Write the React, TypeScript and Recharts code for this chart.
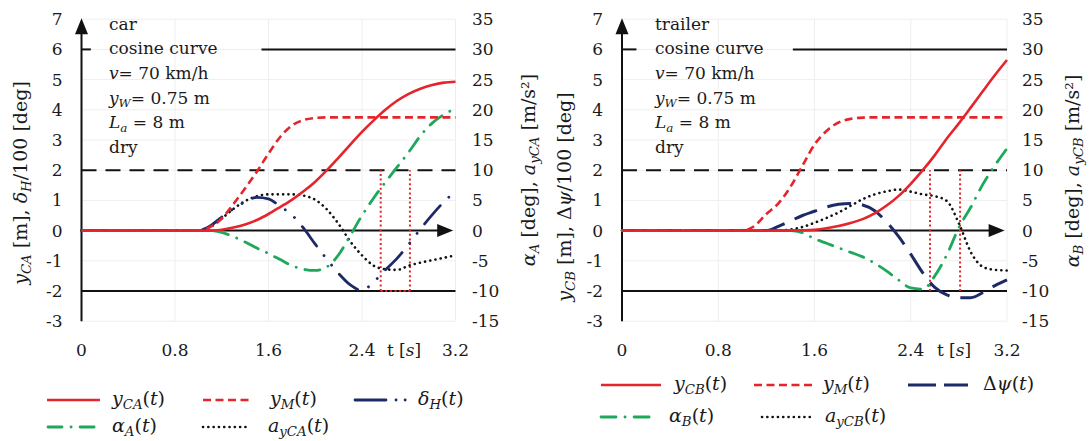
import React from 'react';
import { ComposedChart, Line, XAxis, YAxis, ReferenceLine, CartesianGrid } from 'recharts';

// ---------- data ----------
const tValues = [0, 0.1, 0.2, 0.3, 0.4, 0.5, 0.6, 0.7, 0.8, 0.9, 1.0, 1.1, 1.2, 1.3, 1.4, 1.5, 1.6, 1.7, 1.8, 1.9, 2.0, 2.1, 2.2, 2.3, 2.4, 2.5, 2.6, 2.7, 2.8, 2.9, 3.0, 3.1, 3.2];
const xTicks = [0, 0.8, 1.6, 2.4, 3.2];
const leftTicks = [-3, -2, -1, 0, 1, 2, 3, 4, 5, 6, 7];
const rightTicks = [-15, -10, -5, 0, 5, 10, 15, 20, 25, 30, 35];

// car (left panel)
const carYCA = [0, 0, 0, 0, 0, 0, 0, 0, 0, 0, 0, 0, 0.03, 0.1, 0.2, 0.35, 0.55, 0.78, 1.02, 1.3, 1.62, 2.0, 2.42, 2.85, 3.27, 3.65, 4.0, 4.3, 4.53, 4.7, 4.82, 4.9, 4.93];
const carYM = [0, 0, 0, 0, 0, 0, 0, 0, 0, 0, 0, 0.12, 0.4, 0.88, 1.4, 1.95, 2.55, 3.1, 3.48, 3.66, 3.73, 3.75, 3.75, 3.75, 3.75, 3.75, 3.75, 3.75, 3.75, 3.75, 3.75, 3.75, 3.75];
const carDeltaH = [0, 0, 0, 0, 0, 0, 0, 0, 0, 0, 0, 0.15, 0.45, 0.72, 0.95, 1.1, 1.05, 0.8, 0.52, 0.08, -0.45, -0.95, -1.42, -1.8, -1.98, -1.7, -1.3, -0.92, -0.45, 0.05, 0.52, 0.95, 1.3];
const carAlphaA = [0, 0, 0, 0, 0, 0, 0, 0, 0, 0, 0, 0, -0.3, -1.0, -1.9, -2.9, -3.8, -4.8, -5.8, -6.4, -6.6, -6.0, -4.0, -0.8, 2.5, 5.4, 8.0, 10.5, 13.0, 15.7, 17.8, 19.2, 20.2];
const carAyCA = [0, 0, 0, 0, 0, 0, 0, 0, 0, 0, 0, 0.6, 2.0, 3.6, 4.9, 5.7, 6.0, 6.0, 6.0, 5.8, 5.1, 3.5, 1.1, -1.8, -4.1, -5.8, -6.4, -6.5, -5.8, -5.3, -4.9, -4.5, -4.1];
const carMarkT = [2.56, 2.81];

// trailer (right panel)
const trYCB = [0, 0, 0, 0, 0, 0, 0, 0, 0, 0, 0, 0, 0, 0, 0, 0.01, 0.03, 0.08, 0.15, 0.25, 0.38, 0.57, 0.83, 1.15, 1.55, 2.0, 2.5, 3.05, 3.55, 4.08, 4.62, 5.15, 5.65];
const trYM = [0, 0, 0, 0, 0, 0, 0, 0, 0, 0, 0, 0.15, 0.55, 0.9, 1.45, 2.15, 2.85, 3.3, 3.58, 3.7, 3.74, 3.75, 3.75, 3.75, 3.75, 3.75, 3.75, 3.75, 3.75, 3.75, 3.75, 3.75, 3.75];
const trDpsi = [0, 0, 0, 0, 0, 0, 0, 0, 0, 0, 0, 0, 0, 0.14, 0.32, 0.5, 0.64, 0.78, 0.87, 0.9, 0.85, 0.66, 0.28, -0.2, -0.78, -1.4, -1.88, -2.13, -2.22, -2.22, -2.05, -1.82, -1.63];
const trAlphaB = [0, 0, 0, 0, 0, 0, 0, 0, 0, 0, 0, 0, 0, 0, 0, -0.35, -1.35, -2.1, -2.85, -3.6, -4.35, -5.4, -6.7, -8.2, -9.5, -9.7, -7.5, -4.0, 0.5, 3.9, 7.7, 10.8, 13.6];
const trAyCB = [0, 0, 0, 0, 0, 0, 0, 0, 0, 0, 0, 0, 0, 0, 0.2, 0.6, 1.3, 2.1, 3.0, 4.1, 5.2, 6.0, 6.5, 6.8, 6.45, 6.0, 5.7, 4.9, 1.2, -3.6, -6.0, -6.5, -6.6];
const trMarkT = [2.56, 2.81];

const carData = tValues.map((t, i) => ({ t, y: carYCA[i], m: carYM[i], d: carDeltaH[i], al: carAlphaA[i], ay: carAyCA[i] }));
const trData = tValues.map((t, i) => ({ t, y: trYCB[i], m: trYM[i], d: trDpsi[i], al: trAlphaB[i], ay: trAyCB[i] }));

// ---------- styles ----------
const FONT = 'DejaVu Serif';
const FS = 17;
const FS_LEG = 19;
const FS_TITLE = 19;
const TXT = '#1a1a1a';
const RED = '#e4252b';
const NAVY = '#1d2a66';
const GREEN = '#1ea85a';
const BLACK = '#111111';

type St = { stroke: string; w: number; dash?: string; cap?: 'round' | 'butt' };
const sRedSolid: St = { stroke: RED, w: 2.6 };
const sRedDash: St = { stroke: RED, w: 2.6, dash: '8 4.5' };
const sNavyDD: St = { stroke: NAVY, w: 2.8, dash: '24 12 0.1 12 0.1 12', cap: 'round' };
const sGreen: St = { stroke: GREEN, w: 2.8, dash: '15 9 0.1 9', cap: 'round' };
const sDotted: St = { stroke: BLACK, w: 2.6, dash: '0.1 5.2', cap: 'round' };
const sNavyLong: St = { stroke: NAVY, w: 3, dash: '24 11' };

type Seg = [string, 'n' | 'i' | 's'];

function MText({ x, y, segs, size = FS, anchor = 'start', rot = false }: { x: number; y: number; segs: Seg[]; size?: number; anchor?: string; rot?: boolean }) {
  let cur = 0;
  const spans = segs.map(([txt, st], k) => {
    const target = st === 's' ? size * 0.22 : 0;
    const dy = target - cur;
    cur = target;
    return (
      <tspan key={k} dy={dy} fontStyle={st === 'i' || st === 's' ? 'italic' : 'normal'} fontSize={st === 's' ? size * 0.7 : size}>
        {txt}
      </tspan>
    );
  });
  return (
    <text x={x} y={y} fontFamily={FONT} fontSize={size} fill={TXT} textAnchor={anchor as any} style={{ whiteSpace: 'pre' }} transform={rot ? `rotate(-90 ${x} ${y})` : undefined}>
      {spans}
    </text>
  );
}

const xArrow = (p: any) => {
  const { x1, y1, x2, y2 } = p;
  return (
    <g>
      <line x1={x1} y1={y1} x2={x2 - 10} y2={y2} stroke={BLACK} strokeWidth={2} />
      <polygon points={`${x2},${y2} ${x2 - 16},${y2 - 6.5} ${x2 - 16},${y2 + 6.5}`} fill={BLACK} />
    </g>
  );
};
const yArrow = (p: any) => {
  const { x1, y1, x2, y2 } = p;
  return (
    <g>
      <line x1={x1} y1={y1} x2={x2} y2={y2 + 10} stroke={BLACK} strokeWidth={2} />
      <polygon points={`${x2},${y2 - 1} ${x2 - 6.5},${y2 + 15} ${x2 + 6.5},${y2 + 15}`} fill={BLACK} />
    </g>
  );
};

type SeriesCfg = { key: string; axis: 'l' | 'r'; st: St };
type LegendItem = { st: St; x1: number; x2: number; lx: number; y: number; segs: Seg[]; dash?: string };

type PanelProps = {
  left: number;
  data: any[];
  plotL: number;
  plotR: number;
  series: SeriesCfg[];
  block: Seg[][];
  lineStart: number;
  tickEnd: number;
  markT: number[];
  markBottom: boolean;
  leftTitle: { x: number; y: number; segs: Seg[] };
  rightTitle: { x: number; y: number; segs: Seg[] };
  tLabelX: number;
  legend: LegendItem[];
  rightMargin: number;
};

const TOP = 19.2;
const BOTTOM = 321.2;
const W = 546;
const H = 441;

function Panel(p: PanelProps) {
  const tickStyle = { fontFamily: FONT, fontSize: FS, fill: TXT };
  return (
    <div style={{ position: 'absolute', left: p.left, top: 0, width: W, height: H }}>
      <ComposedChart width={W} height={H} data={p.data} margin={{ top: TOP, right: W - p.plotR - 50, bottom: H - BOTTOM - 30, left: p.plotL - 50 }}>
        <CartesianGrid yAxisId="l" stroke="#eeeeee" strokeWidth={1} />
        <XAxis dataKey="t" type="number" domain={[0, 3.2]} ticks={xTicks} interval={0} axisLine={false} tickLine={false} tickSize={0} tickMargin={23} height={30} tick={tickStyle} />
        <YAxis yAxisId="l" domain={[-3, 7]} ticks={leftTicks} interval={0} width={50} axisLine={false} tickLine={false} tickSize={0} tickMargin={19} tick={tickStyle} />
        <YAxis yAxisId="r" orientation="right" domain={[-15, 35]} ticks={rightTicks} interval={0} width={50} axisLine={false} tickLine={false} tickSize={0} tickMargin={p.rightMargin} tick={tickStyle} />

        <ReferenceLine yAxisId="l" segment={[{ x: 0, y: 6 }, { x: p.tickEnd, y: 6 }]} stroke={BLACK} strokeWidth={2} />
        <ReferenceLine yAxisId="l" segment={[{ x: p.lineStart, y: 6 }, { x: 3.2, y: 6 }]} stroke={BLACK} strokeWidth={2} />
        <ReferenceLine yAxisId="l" segment={[{ x: 0, y: 2 }, { x: 3.2, y: 2 }]} stroke={BLACK} strokeWidth={2} strokeDasharray="15 9" />
        <ReferenceLine yAxisId="l" segment={[{ x: 0, y: -2 }, { x: 3.2, y: -2 }]} stroke={BLACK} strokeWidth={2} />
        <ReferenceLine yAxisId="l" segment={[{ x: 0, y: 0 }, { x: 3.18, y: 0 }]} shape={xArrow} />
        <ReferenceLine yAxisId="l" segment={[{ x: 0, y: -3 }, { x: 0, y: 7 }]} shape={yArrow} />
        {p.markT.map((mt) => (
          <ReferenceLine key={mt} yAxisId="l" segment={[{ x: mt, y: -2 }, { x: mt, y: 2 }]} stroke={RED} strokeWidth={2} strokeDasharray="2 2.6" />
        ))}
        {p.markBottom && (
          <ReferenceLine yAxisId="l" segment={[{ x: p.markT[0], y: -2 }, { x: p.markT[1], y: -2 }]} stroke={RED} strokeWidth={2} strokeDasharray="2 2.6" />
        )}

        {p.series.map((s) => (
          <Line
            key={s.key}
            yAxisId={s.axis}
            dataKey={s.key}
            type="monotone"
            stroke={s.st.stroke}
            strokeWidth={s.st.w}
            strokeDasharray={s.st.dash}
            strokeLinecap={s.st.cap || 'butt'}
            dot={false}
            activeDot={false}
            isAnimationActive={false}
          />
        ))}
      </ComposedChart>
      <svg width={W} height={H} style={{ position: 'absolute', left: 0, top: 0, pointerEvents: 'none' }}>
        {p.block.map((segs, i) => (
          <MText key={i} x={109} y={29.5 + i * 24.7} segs={segs} />
        ))}
        <MText x={p.tLabelX} y={356} segs={[['t [', 'n'], ['s', 'i'], [']', 'n']]} anchor="middle" />
        <MText x={p.leftTitle.x} y={p.leftTitle.y} segs={p.leftTitle.segs} anchor="middle" rot size={FS_TITLE} />
        <MText x={p.rightTitle.x} y={p.rightTitle.y} segs={p.rightTitle.segs} anchor="middle" rot size={FS_TITLE} />
        {p.legend.map((it, i) => (
          <g key={i}>
            <line x1={it.x1} x2={it.x2} y1={it.y} y2={it.y} stroke={it.st.stroke} strokeWidth={it.st.w} strokeDasharray={it.dash ?? it.st.dash} strokeLinecap={it.st.cap || 'butt'} />
            <MText x={it.lx} y={it.y + 5} segs={it.segs} size={FS_LEG} />
          </g>
        ))}
      </svg>
    </div>
  );
}

const carBlock: Seg[][] = [
  [['car', 'n']],
  [['cosine curve', 'n']],
  [['v', 'i'], ['= 70 km/h', 'n']],
  [['y', 'i'], ['W', 's'], ['= 0.75 m', 'n']],
  [['L', 'i'], ['a', 's'], [' = 8 m', 'n']],
  [['dry', 'n']],
];
const trBlock: Seg[][] = [[['trailer', 'n']], ...carBlock.slice(1)];

const carLegend: LegendItem[] = [
  { st: sRedSolid, x1: 47, x2: 100, lx: 112, y: 400, segs: [['y', 'i'], ['CA', 's'], ['(', 'n'], ['t', 'i'], [')', 'n']] },
  { st: sRedDash, x1: 203, x2: 250, lx: 270, y: 400, segs: [['y', 'i'], ['M', 's'], ['(', 'n'], ['t', 'i'], [')', 'n']] },
  { st: sNavyDD, x1: 355, x2: 410, lx: 418, y: 400, dash: '31 10 0.1 9 0.1 30', segs: [['δ', 'i'], ['H', 's'], ['(', 'n'], ['t', 'i'], [')', 'n']] },
  { st: sGreen, x1: 48, x2: 97, lx: 112, y: 427, dash: '14 9 0.1 9 14', segs: [['α', 'i'], ['A', 's'], ['(', 'n'], ['t', 'i'], [')', 'n']] },
  { st: sDotted, x1: 203, x2: 246, lx: 268, y: 427, segs: [['a', 'i'], ['yCA', 's'], ['(', 'n'], ['t', 'i'], [')', 'n']] },
];
const trLegend: LegendItem[] = [
  { st: sRedSolid, x1: 55, x2: 115, lx: 128, y: 385, segs: [['y', 'i'], ['CB', 's'], ['(', 'n'], ['t', 'i'], [')', 'n']] },
  { st: sRedDash, x1: 208, x2: 268, lx: 277, y: 385, segs: [['y', 'i'], ['M', 's'], ['(', 'n'], ['t', 'i'], [')', 'n']] },
  { st: sNavyLong, x1: 362, x2: 422, lx: 437, y: 385, dash: '28 8', segs: [['Δ', 'n'], ['ψ', 'i'], ['(', 'n'], ['t', 'i'], [')', 'n']] },
  { st: sGreen, x1: 55, x2: 107, lx: 123, y: 417, dash: '15 9 0.1 9 15', segs: [['α', 'i'], ['B', 's'], ['(', 'n'], ['t', 'i'], [')', 'n']] },
  { st: sDotted, x1: 216, x2: 266, lx: 279, y: 417, segs: [['a', 'i'], ['yCB', 's'], ['(', 'n'], ['t', 'i'], [')', 'n']] },
];

const carSeries: SeriesCfg[] = [
  { key: 'ay', axis: 'r', st: sDotted },
  { key: 'al', axis: 'r', st: sGreen },
  { key: 'd', axis: 'l', st: sNavyDD },
  { key: 'm', axis: 'l', st: sRedDash },
  { key: 'y', axis: 'l', st: sRedSolid },
];
const trSeries: SeriesCfg[] = [
  { key: 'ay', axis: 'r', st: sDotted },
  { key: 'al', axis: 'r', st: sGreen },
  { key: 'd', axis: 'l', st: sNavyLong },
  { key: 'm', axis: 'l', st: sRedDash },
  { key: 'y', axis: 'l', st: sRedSolid },
];

export default function App() {
  return (
    <div style={{ position: 'absolute', left: 0, top: 0, width: 1092, height: 441, background: '#fff', overflow: 'hidden' }}>
      <Panel
        left={0}
        data={carData}
        plotL={81.5}
        plotR={455.5}
        series={carSeries}
        block={carBlock}
        lineStart={1.54}
        tickEnd={0.08}
        markT={carMarkT}
        markBottom={true}
        leftTitle={{ x: 27, y: 183, segs: [['y', 'i'], ['CA', 's'], [' [m], ', 'n'], ['δ', 'i'], ['H', 's'], ['/100 [deg]', 'n']] }}
        rightTitle={{ x: 535, y: 170, segs: [['α', 'i'], ['A', 's'], [' [deg], ', 'n'], ['a', 'i'], ['yCA', 's'], [' [m/s²]', 'n']] }}
        tLabelX={404}
        legend={carLegend}
        rightMargin={16.5}
      />
      <Panel
        left={546}
        data={trData}
        plotL={76}
        plotR={461}
        series={trSeries}
        block={trBlock}
        lineStart={1.42}
        tickEnd={0.12}
        markT={trMarkT}
        markBottom={false}
        leftTitle={{ x: 25, y: 197, segs: [['y', 'i'], ['CB', 's'], [' [m], Δ', 'n'], ['ψ', 'i'], ['/100 [deg]', 'n']] }}
        rightTitle={{ x: 533, y: 171, segs: [['α', 'i'], ['B', 's'], [' [deg], ', 'n'], ['a', 'i'], ['yCB', 's'], [' [m/s²]', 'n']] }}
        tLabelX={408}
        legend={trLegend}
        rightMargin={15}
      />
    </div>
  );
}
